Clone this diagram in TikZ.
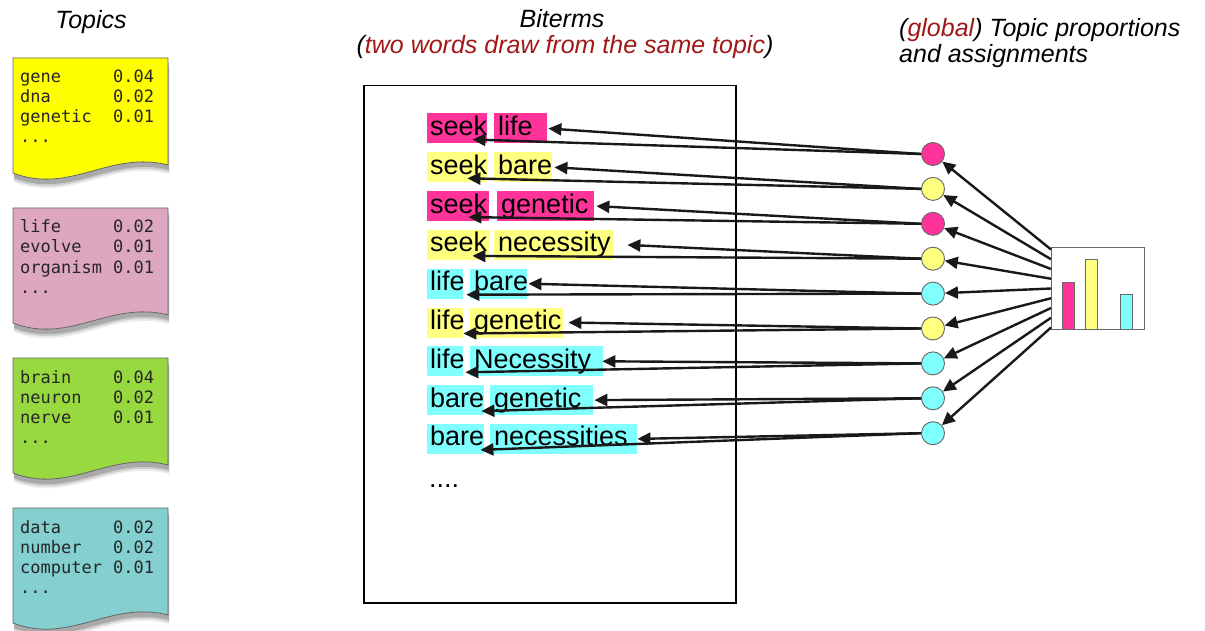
\documentclass[tikz,border=0pt]{standalone}
\usepackage{fontspec}
\setmainfont{Liberation Sans}
\newfontfamily\monof{DejaVu Sans Mono}
\usetikzlibrary{arrows.meta,shadows,calc}
\definecolor{tyellow}{HTML}{FFFF00}
\definecolor{tpink}{HTML}{DDA7C0}
\definecolor{tgreen}{HTML}{99D940}
\definecolor{tcyan}{HTML}{84CFCF}
\definecolor{hpink}{HTML}{FF3399}
\definecolor{hyellow}{HTML}{FFFF80}
\definecolor{hcyan}{HTML}{80FFFF}
\definecolor{dred}{HTML}{A01818}
\tikzset{
  conn/.style={-{Triangle[length=13pt,width=12pt]}, line width=2.4pt, black!90},
  word/.style={anchor=west, inner xsep=0pt, inner ysep=2pt, text height=20pt, text depth=6pt, font=\fontsize{27}{32}\selectfont},
  title/.style={inner sep=0pt, font=\fontsize{25}{30}\selectfont\itshape},
  topicshape/.style={draw=black!60, line width=0.8pt,
    general shadow={shadow xshift=1pt, shadow yshift=-9pt, opacity=0.08, fill=black},
    general shadow={shadow xshift=1pt, shadow yshift=-7pt, opacity=0.12, fill=black},
    general shadow={shadow xshift=1pt, shadow yshift=-5pt, opacity=0.18, fill=black}},
  mono/.style={anchor=base west, inner sep=0pt, text=black!85, font=\monof\fontsize{17}{20}\selectfont},
  dotc/.style={circle, draw=black!60, line width=0.9pt, minimum size=23pt, inner sep=0pt},
}
\begin{document}
\begin{tikzpicture}[x=1pt,y=-1pt]
\useasboundingbox (0,0) rectangle (1205,631);
% titles
\node[title, anchor=base] (ttopics) at (91,29) {Topics};
\node[title, anchor=base] (tbit) at (562,28) {Biterms};
\node[title, anchor=base] (tbit2) at (565,54) {(\textcolor{dred}{two words draw from the same topic})};
\node[title, anchor=base west] (tglob) at (899,37) {(\textcolor{dred}{global}) Topic proportions};
\node[title, anchor=base west] (tglob2) at (899,63) {and assignments};
% topic boxes
\foreach \ty/\col/\a/\na/\b/\nb/\c/\nc [count=\i] in {58/tyellow/gene/0.04/dna/0.02/genetic/0.01, 208/tpink/life/0.02/evolve/0.01/organism/0.01, 358/tgreen/brain/0.04/neuron/0.02/nerve/0.01, 508/tcyan/data/0.02/number/0.02/computer/0.01} {
  \filldraw[topicshape, fill=\col] (13,\ty) -- (168,\ty) -- (168,\ty+107) .. controls (110,\ty+92) and (70,\ty+137) .. (13,\ty+115) -- cycle;
  \node[mono] (ta\i) at (20,\ty+25) {\a};
  \node[mono] (na\i) at (113,\ty+25) {\na};
  \node[mono] (tb\i) at (20,\ty+45) {\b};
  \node[mono] (nb\i) at (113,\ty+45) {\nb};
  \node[mono] (tc\i) at (20,\ty+65) {\c};
  \node[mono] (nc\i) at (113,\ty+65) {\nc};
  \node[mono] (td\i) at (20,\ty+85) {...};
}
% biterm document
\node[draw, line width=1.5pt, minimum width=372pt, minimum height=517pt, anchor=north west, inner sep=0pt] (doc) at (363,85) {};
% chart
\node[draw=black!60, line width=1pt, minimum width=93pt, minimum height=82pt, anchor=north west, inner sep=0pt] (chart) at (1051,247) {};
\filldraw[fill=hpink, draw=black!60, line width=0.9pt] (1062,329) rectangle (1074,282);
\filldraw[fill=hyellow, draw=black!60, line width=0.9pt] (1085,329) rectangle (1097,259);
\filldraw[fill=hcyan, draw=black!60, line width=0.9pt] (1120,329) rectangle (1132,294);
% rows
\foreach \wa/\wb/\col/\Wa/\Xb/\Wb/\dl/\du [count=\i] in {
  seek/life/hpink/60/494/53/-15/1,
  seek/bare/hyellow/60/494/58/-20/2,
  seek/genetic/hpink/62/497/97/-21/2,
  seek/necessity/hyellow/62/494/119/-17/14,
  life/bare/hcyan/36/470/57/3/1,
  life/genetic/hyellow/36/470/93/0/5,
  life/Necessity/hcyan/36/470/133/2/-1,
  bare/genetic/hcyan/57/490/103/-3/1,
  bare/necessities/hcyan/57/490/147/-4/0} {
  \pgfmathsetmacro\ry{128.5+38.8*(\i-1)}
  \pgfmathsetmacro\cy{154+34.9*(\i-1)}
  \node[dotc, fill=\col] (c\i) at (933,\cy) {};
  \node[word, fill=\col] (wa\i) at (427,\ry) {\makebox[\Wa pt][l]{\hspace{3pt}\wa}};
  \node[word, fill=\col] (wb\i) at (\Xb,\ry) {\makebox[\Wb pt][l]{\hspace{4pt}\wb}};
  \draw[conn] (c\i.west) -- ([xshift=\du pt]wb\i.east);
  \draw[conn] (c\i.west) -- ([xshift=\dl pt, yshift=-11pt]wa\i.east);
}
\node[word, anchor=base west] (more) at (429,487) {....};
% fan from chart
\foreach \i in {1,...,9} {
  \pgfmathsetmacro\f{0.03+0.94*(\i-1)/8}
  \draw[conn] ($(chart.north west)!\f!(chart.south west)$) -- (c\i);
}
\end{tikzpicture}
\end{document}
